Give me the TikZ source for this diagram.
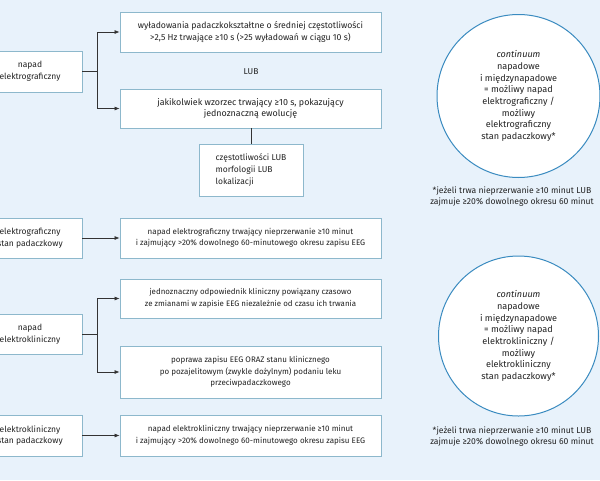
\documentclass[tikz,border=0pt]{standalone}
\usepackage{fontspec}
\setmainfont{Fira Sans}
\usetikzlibrary{arrows.meta}
\definecolor{bgc}{HTML}{E8F2FB}
\definecolor{boxc}{HTML}{8DB8CC}
\definecolor{circc}{HTML}{3A8BC0}
\definecolor{txtc}{HTML}{222222}
\definecolor{linec}{HTML}{333333}
\tikzset{
  every node/.style={text=txtc, font=\fontsize{8.5}{11.7}\selectfont},
  fs/.style={font=\fontsize{#1}{11.7}\selectfont},
  box/.style={draw=boxc, fill=white, line width=0.8pt, align=center, inner sep=0pt},
  rbox/.style={box, minimum width=261pt},
  lbox/.style={box, minimum width=104pt},
  circ/.style={circle, draw=circc, fill=white, line width=1pt, inner sep=0pt, align=center, font=\fontsize{9.1}{11.7}\selectfont},
  arr/.style={draw=linec, line width=0.7pt, -{Latex[length=5pt,width=4pt]}},
  ln/.style={draw=linec, line width=0.7pt},
  note/.style={align=center, font=\fontsize{8.6}{11}\selectfont}
}
\begin{document}
\begin{tikzpicture}[x=1pt,y=-1pt]
\fill[bgc] (0,0) rectangle (600,480);
\useasboundingbox (0,0) rectangle (600,480);
% top group
\node[lbox, minimum height=41pt] (L1) at (30,71.5) {napad\\elektrograficzny};
\node[rbox, minimum height=40pt, fs=8.7] (A) at (250.5,32) {wyładowania padaczkokształtne o średniej częstotliwości\\>2,5 Hz trwające ≥10 s (>25 wyładowań w ciągu 10 s)};
\node (lub) at (251,72) {LUB};
\node[rbox, minimum height=39pt, fs=8.9] (B) at (250.5,108.5) {jakikolwiek wzorzec trwający ≥10 s, pokazujący\\jednoznaczną ewolucję};
\node[box, minimum width=104pt, minimum height=52pt] (C) at (251,170) {\begin{tabular}{@{}l@{}}częstotliwości LUB\\morfologii LUB\\lokalizacji\end{tabular}};
\coordinate (j1) at (97,71.5);
\draw[ln] (L1.east) -- (j1);
\draw[arr] (j1) |- (A.west);
\draw[arr] (j1) |- (B.west);
\draw[ln] (C.north |- B.south) -- (C.north);
% second group
\node[lbox, minimum height=40pt] (L2) at (30,238) {elektrograficzny\\stan padaczkowy};
\node[rbox, minimum height=40pt, fs=8.0] (D) at (250.5,238) {napad elektrograficzny trwający nieprzerwanie ≥10 minut\\i zajmujący >20\% dowolnego 60-minutowego okresu zapisu EEG};
\draw[arr] (L2.east) -- (D.west);
% third group
\node[lbox, minimum height=40pt] (L3) at (30,334) {napad\\elektrokliniczny};
\node[rbox, minimum height=39pt, fs=7.9] (E) at (250.5,298.5) {jednoznaczny odpowiednik kliniczny powiązany czasowo\\ze zmianami w zapisie EEG niezależnie od czasu ich trwania};
\node[rbox, minimum height=52pt, fs=8.0] (F) at (250.5,372) {poprawa zapisu EEG ORAZ stanu klinicznego\\po pozajelitowym (zwykle dożylnym) podaniu leku\\przeciwpadaczkowego};
\coordinate (j2) at (97,334);
\draw[ln] (L3.east) -- (j2);
\draw[arr] (j2) |- (E.west);
\draw[arr] (j2) |- (F.west);
% fourth group
\node[lbox, minimum height=41pt] (L4) at (30,435.5) {elektrokliniczny\\stan padaczkowy};
\node[rbox, minimum height=41pt, fs=8.0] (G) at (250.5,435.5) {napad elektrokliniczny trwający nieprzerwanie ≥10 minut\\i zajmujący >20\% dowolnego 60-minutowego okresu zapisu EEG};
\draw[arr] (L4.east) -- (G.west);
% circles
\node[circ, minimum size=163pt] (K1) at (518.5,96) {\textit{continuum}\\napadowe\\i międzynapadowe\\= możliwy napad\\elektrograficzny /\\możliwy\\elektrograficzny\\stan padaczkowy*};
\node[note] (N1) at (512,197) {*jeżeli trwa nieprzerwanie ≥10 minut LUB\\zajmuje ≥20\% dowolnego okresu 60 minut};
\node[circ, minimum size=160pt] (K2) at (518.5,336) {\textit{continuum}\\napadowe\\i międzynapadowe\\= możliwy napad\\elektrokliniczny /\\możliwy\\elektrokliniczny\\stan padaczkowy*};
\node[note] (N2) at (512,436.5) {*jeżeli trwa nieprzerwanie ≥10 minut LUB\\zajmuje ≥20\% dowolnego okresu 60 minut};
\end{tikzpicture}
\end{document}
